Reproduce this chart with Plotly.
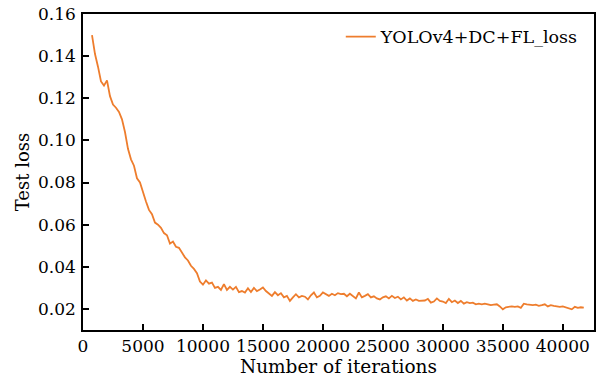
import plotly.graph_objects as go

start_iter = 750
step_iter = 250
loss = [
    0.150, 0.141, 0.135, 0.128, 0.126, 0.1285, 0.121, 0.117, 0.1155, 0.1135,
    0.110, 0.104, 0.096, 0.091, 0.088, 0.082, 0.080, 0.075, 0.071, 0.067,
    0.065, 0.061, 0.060, 0.0585, 0.056, 0.055, 0.051, 0.052, 0.0495, 0.049,
    0.0465, 0.0445, 0.043, 0.0405, 0.039, 0.037, 0.033, 0.0315, 0.0335, 0.032,
    0.0325, 0.030, 0.0305, 0.029, 0.0318, 0.029, 0.0305, 0.0292, 0.0305, 0.028,
    0.0285, 0.0278, 0.0298, 0.028, 0.030, 0.0285, 0.0292, 0.0302, 0.0285, 0.0275,
    0.0262, 0.028, 0.0265, 0.0275, 0.0255, 0.0262, 0.0238, 0.0255, 0.027, 0.0255,
    0.0262, 0.0258, 0.0245, 0.0265, 0.0278, 0.0255, 0.0262, 0.0278, 0.0268, 0.0262,
    0.0272, 0.0265, 0.0275, 0.027, 0.0272, 0.026, 0.0272, 0.0262, 0.025, 0.0278,
    0.0255, 0.0262, 0.027, 0.0255, 0.026, 0.025, 0.0245, 0.0255, 0.026, 0.025,
    0.0262, 0.0252, 0.0258, 0.0245, 0.0255, 0.024, 0.025, 0.0238, 0.0245, 0.0238,
    0.0238, 0.024, 0.0248, 0.023, 0.0235, 0.025, 0.0238, 0.0235, 0.0228, 0.0248,
    0.0232, 0.024, 0.0228, 0.0238, 0.0225, 0.0232, 0.0228, 0.023, 0.0222, 0.0225,
    0.0222, 0.0225, 0.0222, 0.0218, 0.022, 0.0222, 0.0212, 0.0198, 0.0208, 0.021,
    0.0212, 0.021, 0.0212, 0.0205, 0.0225, 0.0222, 0.022, 0.0218, 0.022, 0.0215,
    0.0218, 0.0222, 0.0212, 0.0218, 0.0215, 0.0212, 0.021, 0.0212, 0.0208, 0.0205,
    0.0198, 0.021, 0.0205, 0.0208, 0.0206,
]
iterations = [start_iter + step_iter * i for i in range(len(loss))]

series_name = "YOLOv4+DC+FL_loss"
x_ticks = [0, 5000, 10000, 15000, 20000, 25000, 30000, 35000, 40000]
x_tick_labels = ["0", "5000", "10000", "15000", "20000", "25000", "30000", "35000", "40000"]
y_ticks = [0.02, 0.04, 0.06, 0.08, 0.10, 0.12, 0.14, 0.16]
y_tick_labels = ["0.02", "0.04", "0.06", "0.08", "0.10", "0.12", "0.14", "0.16"]

font_family = "DejaVu Serif"

fig = go.Figure()
fig.add_trace(go.Scatter(
    x=iterations, y=loss, mode="lines", name=series_name,
    line=dict(color="#EE7D2D", width=1.8),
))

axis_common = dict(
    showline=True, linecolor="black", linewidth=1.5, mirror=True,
    ticks="inside", ticklen=6, tickwidth=1.5, tickcolor="black",
    showgrid=False, zeroline=False, automargin=False,
    ticklabeloverflow="allow",
    tickfont=dict(family=font_family, size=17, color="black"),
)

fig.update_layout(
    width=606, height=378,
    margin=dict(l=83, r=12, t=14, b=48),
    paper_bgcolor="white", plot_bgcolor="white",
    font=dict(family=font_family, size=17, color="black"),
    showlegend=True,
    legend=dict(x=0.98, y=0.985, xanchor="right", yanchor="top",
                bgcolor="rgba(0,0,0,0)", borderwidth=0,
                font=dict(family=font_family, size=17.5, color="black")),
    xaxis=dict(range=[0, 42600], tickvals=x_ticks, ticktext=x_tick_labels,
               ticklabelstandoff=0,
               title=dict(text="Number of iterations", standoff=0,
                          font=dict(family=font_family, size=18.5)),
               **axis_common),
    yaxis=dict(range=[0.01, 0.16], tickvals=y_ticks, ticktext=y_tick_labels,
               ticklabelstandoff=2,
               title=dict(text="Test loss", standoff=4,
                          font=dict(family=font_family, size=18)),
               **axis_common),
)

# Remove the browser's default 8px body margin so the figure fills the window.
fig.write_html("out.html",
               config={"displayModeBar": False},
               post_script="document.body.style.margin='0';document.body.style.overflow='hidden';")
